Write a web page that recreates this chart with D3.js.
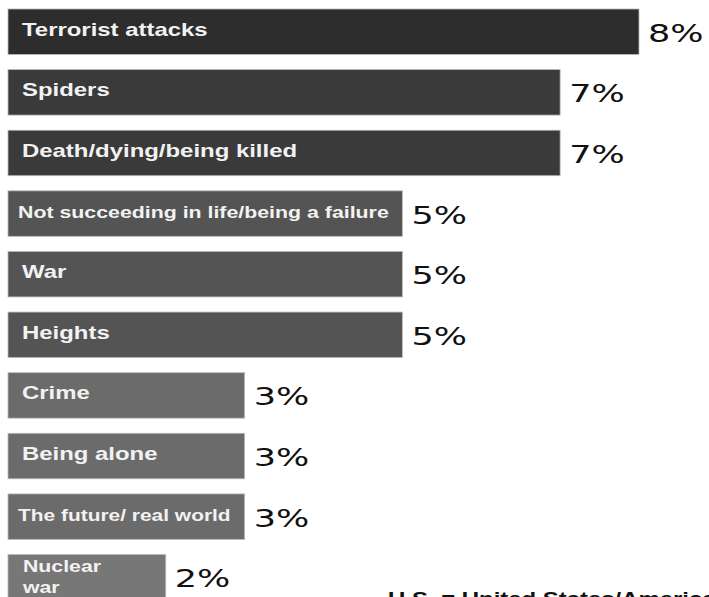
<!DOCTYPE html>
<html>
<head>
<meta charset="utf-8">
<script src="https://cdn.jsdelivr.net/npm/d3@7"></script>
<style>
  html, body { margin: 0; padding: 0; background: #fff; overflow: hidden; }
  svg { display: block; }
</style>
</head>
<body>
<svg id="vis"></svg>
<script>
const WIDTH = 709;
const HEIGHT = 597;

// data
const categories = [
    'Terrorist attacks',
    'Spiders',
    'Death/dying/being killed',
    'Not succeeding in life/being a failure',
    'War',
    'Heights',
    'Crime',
    'Being alone',
    'The future/ real world',
    'Nuclear war'
];
const values = [8, 7, 7, 5, 5, 5, 3, 3, 3, 2];
const footnote = 'U.S. = United States/America';

const LABEL_FONT = '"Liberation Sans", Arial, sans-serif';
const VALUE_FONT = '"DejaVu Sans", "Liberation Sans", sans-serif';
// the source image is stretched sideways, so the texts are too
const STRETCH = 1.33;
const VALUE_STRETCH = 1.4;

var svg = d3.select('#vis').attr('width', WIDTH).attr('height', HEIGHT);

var x = d3.scaleLinear().domain([0, 8]).range([8, 639]);
var y = d3.scaleBand().domain(categories).range([9, 600]).paddingInner(0.25).paddingOuter(0);
var shade = d3.scaleLinear().domain([2, 5, 8]).range(['#777777', '#545454', '#2d2d2d']);

var data = categories.map(function(c, i) { return {name: c, value: values[i]}; });

function stretched(g, px, py, sx) {
    return g.append('text').attr('transform', 'translate(' + px + ',' + py + ') scale(' + sx + ',1)');
}

var rows = svg.append('g').selectAll('g')
    .data(data)
    .join('g')
    .attr('transform', function(d) { return 'translate(0,' + y(d.name) + ')'; });

rows.append('rect')
    .attr('x', x(0))
    .attr('y', 0)
    .attr('width', function(d) { return x(d.value) - x(0); })
    .attr('height', y.bandwidth())
    .attr('fill', function(d) { return shade(d.value); })
    .attr('stroke', '#b8b8b8')
    .attr('stroke-width', 0.8);

// category label inside the bar, shrunk or wrapped when the bar is narrow
rows.each(function(d) {
    var g = d3.select(this);
    var barW = x(d.value) - x(0);
    var mid = y.bandwidth() / 2;
    var words = d.name.split(' ');
    if (barW < 200 && words.length > 1) {
        [words[0], words.slice(1).join(' ')].forEach(function(w, k) {
            stretched(g, x(0) + 15, mid - 5 + k * 21, STRETCH)
                .attr('fill', '#f2f2f2')
                .attr('font-family', LABEL_FONT)
                .attr('font-weight', 'bold')
                .attr('font-size', 16)
                .text(w);
        });
        return;
    }
    var size = 18;
    var t = stretched(g, x(0) + 14, mid + 4, STRETCH)
        .attr('fill', '#f2f2f2')
        .attr('font-family', LABEL_FONT)
        .attr('font-weight', 'bold')
        .attr('font-size', size)
        .text(d.name);
    var room = barW - 24;
    var len = t.node().getComputedTextLength() * STRETCH;
    if (len > room) {
        t.attr('font-size', size * room / len)
         .attr('transform', 'translate(' + (x(0) + 10) + ',' + (mid + 4) + ') scale(' + STRETCH + ',1)');
    }
});

// value labels
rows.each(function(d) {
    stretched(d3.select(this), x(d.value) + 9, y.bandwidth() / 2 + 10, VALUE_STRETCH)
        .attr('fill', '#111')
        .attr('font-family', VALUE_FONT)
        .attr('font-size', 25)
        .text(d.value + '%');
});

stretched(svg, 388, 605, STRETCH)
    .attr('fill', '#111')
    .attr('font-family', LABEL_FONT)
    .attr('font-weight', 'bold')
    .attr('font-size', 18)
    .text(footnote);
</script>
</body>
</html>
